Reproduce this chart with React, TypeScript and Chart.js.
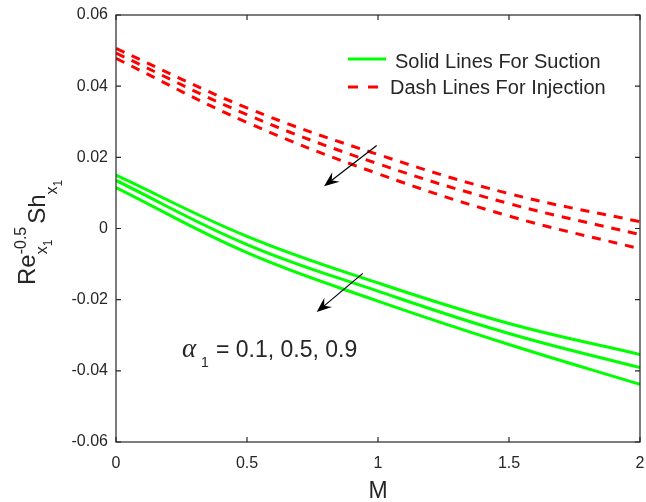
import { useEffect, useRef } from 'react';
import { Chart, registerables } from 'chart.js';

Chart.register(...registerables);

// ---- data ----
const M = [0, 0.5, 1, 1.5, 2];
const suction01 = [0.0150, -0.0022, -0.0153, -0.0267, -0.0354];
const suction05 = [0.0135, -0.0045, -0.0176, -0.0295, -0.0391];
const suction09 = [0.0115, -0.0068, -0.0204, -0.0326, -0.0438];
const injection01 = [0.0506, 0.0339, 0.0208, 0.0098, 0.0019];
const injection05 = [0.0493, 0.0320, 0.0182, 0.0070, -0.0017];
const injection09 = [0.0478, 0.0298, 0.0154, 0.0035, -0.0057];

const xTicks = [0, 0.5, 1, 1.5, 2];
const yTicks = [-0.06, -0.04, -0.02, 0, 0.02, 0.04, 0.06];

const legendLabels = ['Solid Lines For Suction', 'Dash Lines For Injection'];
const annotationText = '= 0.1, 0.5, 0.9';
// arrows in data coordinates [M, value]
const arrowInjection = { from: [0.995, 0.0233], to: [0.794, 0.0119] };
const arrowSuction = { from: [0.942, -0.0126], to: [0.766, -0.0235] };

const FONT = '"Liberation Sans", Arial, sans-serif';
const SERIF = '"Liberation Serif", "DejaVu Serif", serif';
const INK = '#262626';
const GREEN = '#00ff00';
const RED = '#ff0000';

function series(label: string, values: number[], color: string, dashed: boolean) {
  return {
    label,
    data: M.map((m, i) => ({ x: m, y: values[i] })),
    borderColor: color,
    backgroundColor: color,
    borderWidth: 3,
    borderDash: dashed ? [9, 8] : [],
    borderCapStyle: 'butt' as const,
    pointRadius: 0,
    fill: false,
    tension: 0.4,
  };
}

function drawArrow(ctx: CanvasRenderingContext2D, x1: number, y1: number, x2: number, y2: number) {
  const ang = Math.atan2(y2 - y1, x2 - x1);
  const len = 15;
  const hw = 6;
  const ux = Math.cos(ang), uy = Math.sin(ang);
  const bx = x2 - ux * len, by = y2 - uy * len;
  const nx = x2 - ux * len * 0.65, ny = y2 - uy * len * 0.65;
  ctx.save();
  ctx.strokeStyle = '#000';
  ctx.fillStyle = '#000';
  ctx.lineWidth = 1.2;
  ctx.beginPath();
  ctx.moveTo(x1, y1);
  ctx.lineTo(nx, ny);
  ctx.stroke();
  ctx.beginPath();
  ctx.moveTo(x2, y2);
  ctx.lineTo(bx - uy * hw, by + ux * hw);
  ctx.lineTo(nx, ny);
  ctx.lineTo(bx + uy * hw, by - ux * hw);
  ctx.closePath();
  ctx.fill();
  ctx.restore();
}

function rotText(ctx: CanvasRenderingContext2D, text: string, x: number, y: number, size: number) {
  ctx.save();
  ctx.translate(x, y);
  ctx.rotate(-Math.PI / 2);
  ctx.font = `${size}px ${FONT}`;
  ctx.textAlign = 'left';
  ctx.textBaseline = 'alphabetic';
  ctx.fillText(text, 0, 0);
  const w = ctx.measureText(text).width;
  ctx.restore();
  return w;
}

const overlay = {
  id: 'overlay',
  afterDraw(chart: any) {
    const ctx: CanvasRenderingContext2D = chart.ctx;
    const { left, right, top, bottom } = chart.chartArea;
    const xs = chart.scales.x;
    const ys = chart.scales.y;
    ctx.save();
    // box
    ctx.strokeStyle = INK;
    ctx.lineWidth = 1.2;
    ctx.strokeRect(left, top, right - left, bottom - top);
    // inward ticks
    ctx.beginPath();
    xTicks.forEach((v) => {
      const px = xs.getPixelForValue(v);
      ctx.moveTo(px, bottom);
      ctx.lineTo(px, bottom - 5);
      ctx.moveTo(px, top);
      ctx.lineTo(px, top + 5);
    });
    yTicks.forEach((v) => {
      const py = ys.getPixelForValue(v);
      ctx.moveTo(left, py);
      ctx.lineTo(left + 5, py);
      ctx.moveTo(right, py);
      ctx.lineTo(right - 5, py);
    });
    ctx.stroke();

    // x title
    ctx.fillStyle = INK;
    ctx.font = `23px ${FONT}`;
    ctx.textAlign = 'center';
    ctx.textBaseline = 'alphabetic';
    ctx.fillText('M', (left + right) / 2, 498);

    // y title: Re_{x_1}^{-0.5} Sh_{x_1}
    let y = 285;
    const wRe = rotText(ctx, 'Re', 35, y, 24);
    y -= wRe;
    const wx = rotText(ctx, 'x', 47, y, 16);
    rotText(ctx, '1', 52, y - wx, 12);
    const wsup = rotText(ctx, '-0.5', 26, y, 16);
    y -= wsup + 3;
    const wSh = rotText(ctx, 'Sh', 45, y, 24);
    y -= wSh;
    const wx2 = rotText(ctx, 'x', 57, y, 16);
    rotText(ctx, '1', 62, y - wx2, 12);

    // legend
    ctx.lineWidth = 3;
    ctx.strokeStyle = GREEN;
    ctx.setLineDash([]);
    ctx.beginPath();
    ctx.moveTo(348, 59);
    ctx.lineTo(386, 59);
    ctx.stroke();
    ctx.strokeStyle = RED;
    ctx.setLineDash([10, 10]);
    ctx.beginPath();
    ctx.moveTo(348, 87);
    ctx.lineTo(378, 87);
    ctx.stroke();
    ctx.setLineDash([]);
    ctx.fillStyle = INK;
    ctx.font = `20px ${FONT}`;
    ctx.textAlign = 'left';
    ctx.fillText(legendLabels[0], 395, 68);
    ctx.fillText(legendLabels[1], 390, 94);

    // annotation text
    ctx.font = `italic 27px ${SERIF}`;
    ctx.fillText('\u03b1', 182, 357);
    ctx.font = `14px ${FONT}`;
    ctx.fillText('1', 201, 367);
    ctx.font = `23px ${FONT}`;
    ctx.fillText(annotationText, 216, 357);

    // arrows
    [arrowInjection, arrowSuction].forEach((a) => {
      drawArrow(
        ctx,
        xs.getPixelForValue(a.from[0]),
        ys.getPixelForValue(a.from[1]),
        xs.getPixelForValue(a.to[0]),
        ys.getPixelForValue(a.to[1])
      );
    });
    ctx.restore();
  },
};

export default function App() {
  const ref = useRef<HTMLCanvasElement>(null);
  useEffect(() => {
    const canvas = ref.current!;
    const chart = new Chart(canvas, {
      type: 'line',
      data: {
        datasets: [
          series('suction 0.1', suction01, GREEN, false),
          series('suction 0.5', suction05, GREEN, false),
          series('suction 0.9', suction09, GREEN, false),
          series('injection 0.1', injection01, RED, true),
          series('injection 0.5', injection05, RED, true),
          series('injection 0.9', injection09, RED, true),
        ] as any,
      },
      options: {
        responsive: false,
        animation: false,
        events: [],
        layout: { padding: { top: 15, right: 6, left: 0, bottom: 0 } },
        plugins: { legend: { display: false }, tooltip: { enabled: false } },
        scales: {
          x: {
            type: 'linear',
            min: 0,
            max: 2,
            afterBuildTicks: (s: any) => {
              s.ticks = xTicks.map((v) => ({ value: v }));
            },
            ticks: {
              padding: 4,
              color: INK,
              font: { family: FONT, size: 16 },
              callback: (v: any) => String(v),
              maxRotation: 0,
              autoSkip: false,
            },
            grid: { display: false },
            border: { display: false },
            afterFit: (s: any) => {
              s.height = 60;
              s.paddingLeft = 0;
              s.paddingRight = 0;
            },
          },
          y: {
            type: 'linear',
            min: -0.06,
            max: 0.06,
            afterBuildTicks: (s: any) => {
              s.ticks = yTicks.map((v) => ({ value: v }));
            },
            ticks: {
              padding: 0,
              color: INK,
              font: { family: FONT, size: 16 },
              callback: (v: any) => (Math.abs(v) < 1e-9 ? '0' : Number(v).toFixed(2)),
              autoSkip: false,
            },
            grid: { display: false },
            border: { display: false },
            afterFit: (s: any) => {
              s.width = 116;
              s.paddingTop = 0;
              s.paddingBottom = 0;
            },
          },
        },
      } as any,
      plugins: [overlay],
    });
    return () => chart.destroy();
  }, []);
  return (
    <div style={{ position: 'absolute', left: 0, top: 0, width: 646, height: 502, background: '#fff' }}>
      <canvas ref={ref} width={646} height={502} style={{ display: 'block' }} />
    </div>
  );
}
